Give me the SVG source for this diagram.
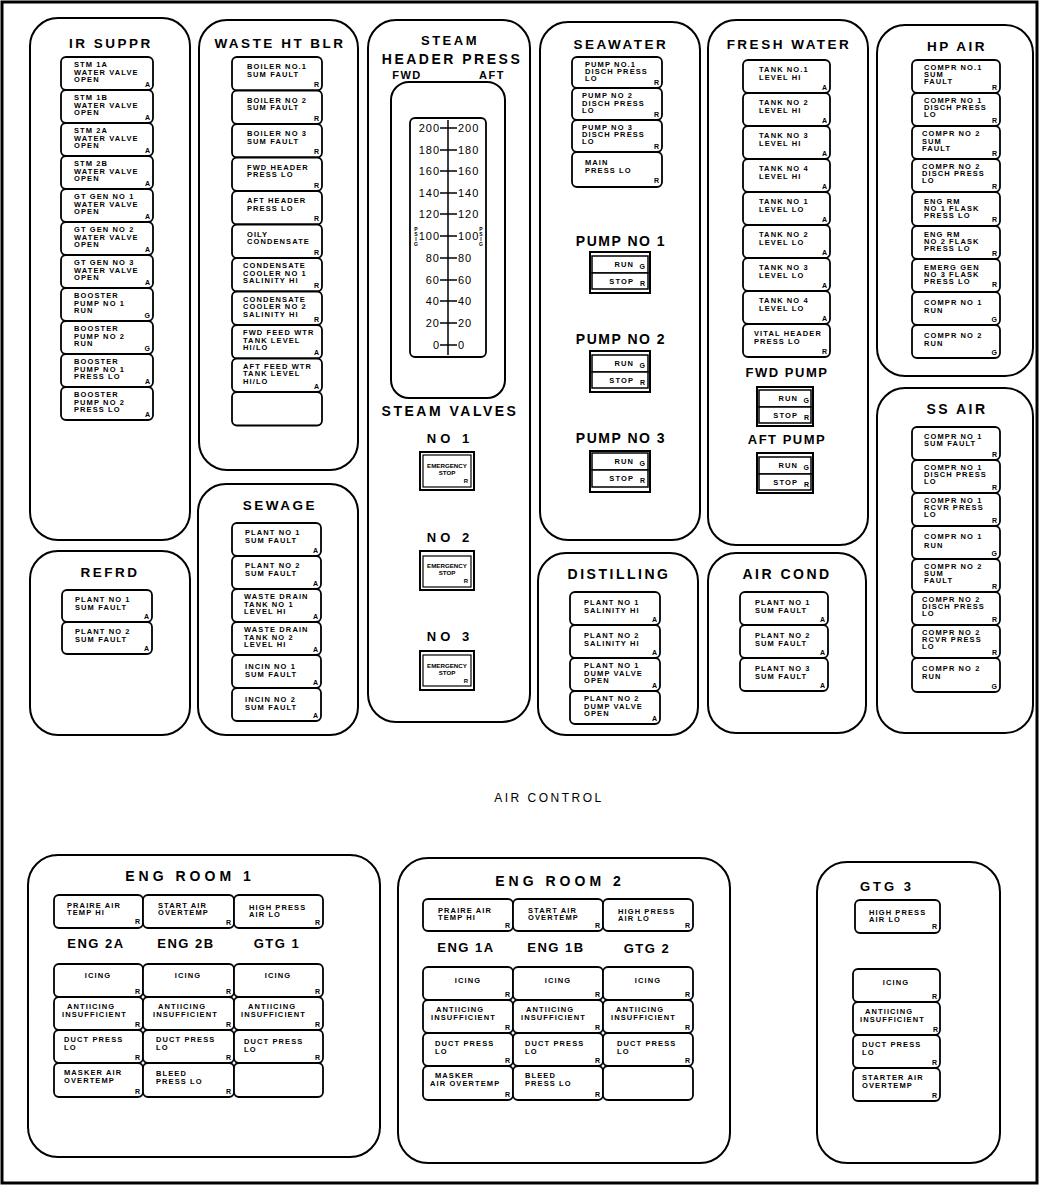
<svg xmlns="http://www.w3.org/2000/svg" width="1040" height="1187" viewBox="0 0 1040 1187">
<style>
.frame{fill:none;stroke:#000;stroke-width:3}
.panel{fill:none;stroke:#000;stroke-width:2}
.tile rect{fill:#fff;stroke:#000;stroke-width:1.8}
.tt{font-family:'Liberation Sans',Arial,sans-serif;font-weight:bold;font-size:7.5px;letter-spacing:1.1px;fill:#000}
.tc{font-family:'Liberation Sans',Arial,sans-serif;font-weight:bold;font-size:7.5px;letter-spacing:1.1px;fill:#000;text-anchor:middle}
.ind{font-family:'Liberation Sans',Arial,sans-serif;font-weight:bold;font-size:7px;fill:#000;text-anchor:end}
.title{font-family:'Liberation Sans',Arial,sans-serif;font-weight:bold;font-size:13.5px;letter-spacing:2.5px;text-anchor:middle;fill:#000}
.sub{font-family:'Liberation Sans',Arial,sans-serif;font-weight:bold;font-size:14px;letter-spacing:2.5px;text-anchor:middle;fill:#000}
.num{font-family:'Liberation Sans',Arial,sans-serif;font-size:11px;letter-spacing:1px;fill:#000}
.psig{font-family:'Liberation Sans',Arial,sans-serif;font-weight:bold;font-size:5px;fill:#000;text-anchor:middle}
.big{font-family:'Liberation Sans',Arial,sans-serif;font-size:12px;letter-spacing:2.5px;text-anchor:middle;fill:#000}
.sw rect{fill:#fff;stroke:#000}
.line{stroke:#000;stroke-width:1.5;fill:none}
</style>
<rect x="0" y="0" width="1040" height="1187" fill="#fff"/>
<rect class="frame" x="2" y="2" width="1035" height="1181"/>
<g id="connectors"></g>

<g id="ir-suppr">
<rect class="panel" x="30" y="18" width="160" height="522" rx="28"/>
<text class="title" x="111" y="48">IR SUPPR</text>
<g class="tile" transform="translate(61,57)"><rect width="92" height="33" rx="5"/><text class="tt" x="13" y="10">STM 1A<tspan x="13" dy="7.5">WATER VALVE</tspan><tspan x="13" dy="7.5">OPEN</tspan></text><text class="ind" x="89" y="30">A</text></g>
<g class="tile" transform="translate(61,90)"><rect width="92" height="33" rx="5"/><text class="tt" x="13" y="10">STM 1B<tspan x="13" dy="7.5">WATER VALVE</tspan><tspan x="13" dy="7.5">OPEN</tspan></text><text class="ind" x="89" y="30">A</text></g>
<g class="tile" transform="translate(61,123)"><rect width="92" height="33" rx="5"/><text class="tt" x="13" y="10">STM 2A<tspan x="13" dy="7.5">WATER VALVE</tspan><tspan x="13" dy="7.5">OPEN</tspan></text><text class="ind" x="89" y="30">A</text></g>
<g class="tile" transform="translate(61,156)"><rect width="92" height="33" rx="5"/><text class="tt" x="13" y="10">STM 2B<tspan x="13" dy="7.5">WATER VALVE</tspan><tspan x="13" dy="7.5">OPEN</tspan></text><text class="ind" x="89" y="30">A</text></g>
<g class="tile" transform="translate(61,189)"><rect width="92" height="33" rx="5"/><text class="tt" x="13" y="10">GT GEN NO 1<tspan x="13" dy="7.5">WATER VALVE</tspan><tspan x="13" dy="7.5">OPEN</tspan></text><text class="ind" x="89" y="30">A</text></g>
<g class="tile" transform="translate(61,222)"><rect width="92" height="33" rx="5"/><text class="tt" x="13" y="10">GT GEN NO 2<tspan x="13" dy="7.5">WATER VALVE</tspan><tspan x="13" dy="7.5">OPEN</tspan></text><text class="ind" x="89" y="30">A</text></g>
<g class="tile" transform="translate(61,255)"><rect width="92" height="33" rx="5"/><text class="tt" x="13" y="10">GT GEN NO 3<tspan x="13" dy="7.5">WATER VALVE</tspan><tspan x="13" dy="7.5">OPEN</tspan></text><text class="ind" x="89" y="30">A</text></g>
<g class="tile" transform="translate(61,288)"><rect width="92" height="33" rx="5"/><text class="tt" x="13" y="10">BOOSTER<tspan x="13" dy="7.5">PUMP NO 1</tspan><tspan x="13" dy="7.5">RUN</tspan></text><text class="ind" x="89" y="30">G</text></g>
<g class="tile" transform="translate(61,321)"><rect width="92" height="33" rx="5"/><text class="tt" x="13" y="10">BOOSTER<tspan x="13" dy="7.5">PUMP NO 2</tspan><tspan x="13" dy="7.5">RUN</tspan></text><text class="ind" x="89" y="30">G</text></g>
<g class="tile" transform="translate(61,354)"><rect width="92" height="33" rx="5"/><text class="tt" x="13" y="10">BOOSTER<tspan x="13" dy="7.5">PUMP NO 1</tspan><tspan x="13" dy="7.5">PRESS LO</tspan></text><text class="ind" x="89" y="30">A</text></g>
<g class="tile" transform="translate(61,387)"><rect width="92" height="33" rx="5"/><text class="tt" x="13" y="10">BOOSTER<tspan x="13" dy="7.5">PUMP NO 2</tspan><tspan x="13" dy="7.5">PRESS LO</tspan></text><text class="ind" x="89" y="30">A</text></g>
</g>

<g id="refrd">
<rect class="panel" x="30" y="551" width="160" height="184" rx="28"/>
<text class="title" x="110" y="577">REFRD</text>
<g class="tile" transform="translate(62,590)"><rect width="90" height="32" rx="5"/><text class="tt" x="13" y="12">PLANT NO 1<tspan x="13" dy="7.5">SUM FAULT</tspan></text><text class="ind" x="87" y="29">A</text></g>
<g class="tile" transform="translate(62,622)"><rect width="90" height="32" rx="5"/><text class="tt" x="13" y="12">PLANT NO 2<tspan x="13" dy="7.5">SUM FAULT</tspan></text><text class="ind" x="87" y="29">A</text></g>
</g>

<g id="waste-ht-blr">
<rect class="panel" x="199" y="20" width="159" height="450" rx="28"/>
<text class="title" x="280" y="48">WASTE HT BLR</text>
<g class="tile" transform="translate(232,57)"><rect width="90" height="33.5" rx="5"/><text class="tt" x="15" y="12">BOILER NO.1<tspan x="15" dy="7.5">SUM FAULT</tspan></text><text class="ind" x="87" y="30">R</text></g>
<g class="tile" transform="translate(232,90.5)"><rect width="90" height="33.5" rx="5"/><text class="tt" x="15" y="12">BOILER NO 2<tspan x="15" dy="7.5">SUM FAULT</tspan></text><text class="ind" x="87" y="30">R</text></g>
<g class="tile" transform="translate(232,124)"><rect width="90" height="33.5" rx="5"/><text class="tt" x="15" y="12">BOILER NO 3<tspan x="15" dy="7.5">SUM FAULT</tspan></text><text class="ind" x="87" y="30">R</text></g>
<g class="tile" transform="translate(232,157.5)"><rect width="90" height="33.5" rx="5"/><text class="tt" x="15" y="12">FWD HEADER<tspan x="15" dy="7.5">PRESS LO</tspan></text><text class="ind" x="87" y="30">R</text></g>
<g class="tile" transform="translate(232,191)"><rect width="90" height="33.5" rx="5"/><text class="tt" x="15" y="12">AFT HEADER<tspan x="15" dy="7.5">PRESS LO</tspan></text><text class="ind" x="87" y="30">R</text></g>
<g class="tile" transform="translate(232,224.5)"><rect width="90" height="33.5" rx="5"/><text class="tt" x="15" y="12">OILY<tspan x="15" dy="7.5">CONDENSATE</tspan></text><text class="ind" x="87" y="30">R</text></g>
<g class="tile" transform="translate(232,258)"><rect width="90" height="33.5" rx="5"/><text class="tt" x="11" y="10">CONDENSATE<tspan x="11" dy="7.5">COOLER NO 1</tspan><tspan x="11" dy="7.5">SALINITY HI</tspan></text><text class="ind" x="87" y="30">R</text></g>
<g class="tile" transform="translate(232,291.5)"><rect width="90" height="33.5" rx="5"/><text class="tt" x="11" y="10">CONDENSATE<tspan x="11" dy="7.5">COOLER NO 2</tspan><tspan x="11" dy="7.5">SALINITY HI</tspan></text><text class="ind" x="87" y="30">R</text></g>
<g class="tile" transform="translate(232,325)"><rect width="90" height="33.5" rx="5"/><text class="tt" x="11" y="10">FWD FEED WTR<tspan x="11" dy="7.5">TANK LEVEL</tspan><tspan x="11" dy="7.5">HI/LO</tspan></text><text class="ind" x="87" y="30">A</text></g>
<g class="tile" transform="translate(232,358.5)"><rect width="90" height="33.5" rx="5"/><text class="tt" x="11" y="10">AFT FEED WTR<tspan x="11" dy="7.5">TANK LEVEL</tspan><tspan x="11" dy="7.5">HI/LO</tspan></text><text class="ind" x="87" y="30">A</text></g>
<g class="tile" transform="translate(232,392)"><rect width="90" height="33.5" rx="5"/></g>
</g>

<g id="sewage">
<rect class="panel" x="198" y="484" width="160" height="251" rx="28"/>
<text class="title" x="280" y="510">SEWAGE</text>
<g class="tile" transform="translate(232,523)"><rect width="89" height="33" rx="5"/><text class="tt" x="13" y="12">PLANT NO 1<tspan x="13" dy="7.5">SUM FAULT</tspan></text><text class="ind" x="86" y="30">A</text></g>
<g class="tile" transform="translate(232,556)"><rect width="89" height="33" rx="5"/><text class="tt" x="13" y="12">PLANT NO 2<tspan x="13" dy="7.5">SUM FAULT</tspan></text><text class="ind" x="86" y="30">A</text></g>
<g class="tile" transform="translate(232,589)"><rect width="89" height="33" rx="5"/><text class="tt" x="12" y="10">WASTE DRAIN<tspan x="12" dy="7.5">TANK NO 1</tspan><tspan x="12" dy="7.5">LEVEL HI</tspan></text><text class="ind" x="86" y="30">A</text></g>
<g class="tile" transform="translate(232,622)"><rect width="89" height="33" rx="5"/><text class="tt" x="12" y="10">WASTE DRAIN<tspan x="12" dy="7.5">TANK NO 2</tspan><tspan x="12" dy="7.5">LEVEL HI</tspan></text><text class="ind" x="86" y="30">A</text></g>
<g class="tile" transform="translate(232,655)"><rect width="89" height="33" rx="5"/><text class="tt" x="13" y="14">INCIN NO 1<tspan x="13" dy="7.5">SUM FAULT</tspan></text><text class="ind" x="86" y="30">A</text></g>
<g class="tile" transform="translate(232,688)"><rect width="89" height="33" rx="5"/><text class="tt" x="13" y="14">INCIN NO 2<tspan x="13" dy="7.5">SUM FAULT</tspan></text><text class="ind" x="86" y="30">A</text></g>
</g>

<g id="steam">
<rect class="panel" x="368" y="20" width="162" height="702" rx="28"/>
<text class="sub" x="450" y="45" style="font-size:13px">STEAM</text>
<text class="sub" x="452" y="64">HEADER PRESS</text>
<text class="title" x="407" y="79" style="font-size:11px;letter-spacing:1.5px">FWD</text>
<text class="title" x="492" y="79" style="font-size:11px;letter-spacing:1.5px">AFT</text>
<rect class="panel" x="391" y="82" width="114" height="316" rx="18"/>
<rect x="410" y="118" width="76" height="239" rx="5" fill="none" stroke="#000" stroke-width="1.8"/>
<line class="line" x1="448" y1="120" x2="448" y2="355"/>
<g class="line">
<line x1="440" y1="128" x2="457" y2="128"/><line x1="440" y1="150" x2="457" y2="150"/><line x1="440" y1="171" x2="457" y2="171"/><line x1="440" y1="193" x2="457" y2="193"/><line x1="440" y1="214" x2="457" y2="214"/><line x1="440" y1="236" x2="457" y2="236"/><line x1="440" y1="258" x2="457" y2="258"/><line x1="440" y1="280" x2="457" y2="280"/><line x1="440" y1="301" x2="457" y2="301"/><line x1="440" y1="323" x2="457" y2="323"/><line x1="440" y1="345" x2="457" y2="345"/>
</g>
<g class="num" text-anchor="end">
<text x="440" y="132">200</text><text x="440" y="154">180</text><text x="440" y="175">160</text><text x="440" y="197">140</text><text x="440" y="218">120</text><text x="440" y="240">100</text><text x="440" y="262">80</text><text x="440" y="284">60</text><text x="440" y="305">40</text><text x="440" y="327">20</text><text x="440" y="349">0</text>
</g>
<g class="num">
<text x="458" y="132">200</text><text x="458" y="154">180</text><text x="458" y="175">160</text><text x="458" y="197">140</text><text x="458" y="218">120</text><text x="458" y="240">100</text><text x="458" y="262">80</text><text x="458" y="284">60</text><text x="458" y="305">40</text><text x="458" y="327">20</text><text x="458" y="349">0</text>
</g>
<text class="psig" x="416" y="231">P<tspan x="416" dy="5">S</tspan><tspan x="416" dy="5">I</tspan><tspan x="416" dy="5">G</tspan></text>
<text class="psig" x="481" y="231">P<tspan x="481" dy="5">S</tspan><tspan x="481" dy="5">I</tspan><tspan x="481" dy="5">G</tspan></text>
<text class="sub" x="450" y="416" style="font-size:14px">STEAM VALVES</text>
<text class="sub" x="450" y="443" style="font-size:13px;letter-spacing:4px">NO 1</text>
<g class="sw" transform="translate(420,452)"><rect width="54" height="38" stroke-width="2"/><rect x="3" y="3" width="48" height="32" stroke-width="1.2"/><text class="tc" x="27" y="16" style="font-size:6.2px;letter-spacing:0">EMERGENCY<tspan x="27" dy="7">STOP</tspan></text><text class="ind" x="48" y="31" style="font-size:6px">R</text></g>
<text class="sub" x="450" y="542" style="font-size:13px;letter-spacing:4px">NO 2</text>
<g class="sw" transform="translate(420,551)"><rect width="54" height="39" stroke-width="2"/><rect x="3" y="5" width="48" height="31" stroke-width="1.2"/><text class="tc" x="27" y="17" style="font-size:6.2px;letter-spacing:0">EMERGENCY<tspan x="27" dy="7">STOP</tspan></text><text class="ind" x="48" y="32" style="font-size:6px">R</text></g>
<text class="sub" x="450" y="641" style="font-size:13px;letter-spacing:4px">NO 3</text>
<g class="sw" transform="translate(420,651)"><rect width="54" height="39" stroke-width="2"/><rect x="3" y="4" width="48" height="31" stroke-width="1.2"/><text class="tc" x="27" y="17" style="font-size:6.2px;letter-spacing:0">EMERGENCY<tspan x="27" dy="7">STOP</tspan></text><text class="ind" x="48" y="32" style="font-size:6px">R</text></g>
</g>

<g id="seawater">
<rect class="panel" x="540" y="22" width="160" height="518" rx="28"/>
<text class="title" x="621" y="49">SEAWATER</text>
<g class="tile" transform="translate(572,57)"><rect width="90" height="31" rx="5"/><text class="tt" x="13" y="10">PUMP NO.1<tspan x="13" dy="7">DISCH PRESS</tspan><tspan x="13" dy="7">LO</tspan></text><text class="ind" x="87" y="28">R</text></g>
<g class="tile" transform="translate(572,88)"><rect width="90" height="32" rx="5"/><text class="tt" x="10" y="10">PUMP NO 2<tspan x="10" dy="7.5">DISCH PRESS</tspan><tspan x="10" dy="7.5">LO</tspan></text><text class="ind" x="87" y="29">R</text></g>
<g class="tile" transform="translate(572,120)"><rect width="90" height="32" rx="5"/><text class="tt" x="10" y="10">PUMP NO 3<tspan x="10" dy="7">DISCH PRESS</tspan><tspan x="10" dy="7">LO</tspan></text><text class="ind" x="87" y="29">R</text></g>
<g class="tile" transform="translate(572,152)"><rect width="90" height="35" rx="5"/><text class="tt" x="13" y="13">MAIN<tspan x="13" dy="7.5">PRESS LO</tspan></text><text class="ind" x="87" y="31">R</text></g>
<text class="sub" x="621" y="246" style="letter-spacing:1.5px">PUMP NO 1</text>
<g class="sw" transform="translate(590,252)"><rect width="60" height="41" stroke-width="2"/><rect x="2" y="4" width="56" height="17" stroke-width="1.5"/><rect x="2" y="21" width="56" height="16" stroke-width="1.5"/><text class="tt" x="44" y="15" text-anchor="end">RUN</text><text class="ind" x="55" y="17">G</text><text class="tt" x="44" y="32" text-anchor="end">STOP</text><text class="ind" x="55" y="34">R</text></g>
<text class="sub" x="621" y="344" style="letter-spacing:1.5px">PUMP NO 2</text>
<g class="sw" transform="translate(590,351)"><rect width="60" height="41" stroke-width="2"/><rect x="2" y="4" width="56" height="17" stroke-width="1.5"/><rect x="2" y="21" width="56" height="16" stroke-width="1.5"/><text class="tt" x="44" y="15" text-anchor="end">RUN</text><text class="ind" x="55" y="17">G</text><text class="tt" x="44" y="32" text-anchor="end">STOP</text><text class="ind" x="55" y="34">R</text></g>
<text class="sub" x="621" y="443" style="letter-spacing:1.5px">PUMP NO 3</text>
<g class="sw" transform="translate(590,451)"><rect width="60" height="41" stroke-width="2"/><rect x="2" y="2" width="56" height="17" stroke-width="1.5"/><rect x="2" y="19" width="56" height="17" stroke-width="1.5"/><text class="tt" x="44" y="13" text-anchor="end">RUN</text><text class="ind" x="55" y="15">G</text><text class="tt" x="44" y="30" text-anchor="end">STOP</text><text class="ind" x="55" y="32">R</text></g>
</g>

<g id="distilling">
<rect class="panel" x="538" y="553" width="160" height="182" rx="28"/>
<text class="title" x="619" y="579" style="font-size:14px">DISTILLING</text>
<g class="tile" transform="translate(570,592)"><rect width="90" height="33" rx="5"/><text class="tt" x="14" y="13">PLANT NO 1<tspan x="14" dy="7.5">SALINITY HI</tspan></text><text class="ind" x="87" y="30">A</text></g>
<g class="tile" transform="translate(570,625)"><rect width="90" height="33" rx="5"/><text class="tt" x="14" y="13">PLANT NO 2<tspan x="14" dy="7.5">SALINITY HI</tspan></text><text class="ind" x="87" y="30">A</text></g>
<g class="tile" transform="translate(570,658)"><rect width="90" height="33" rx="5"/><text class="tt" x="14" y="10">PLANT NO 1<tspan x="14" dy="7.5">DUMP VALVE</tspan><tspan x="14" dy="7.5">OPEN</tspan></text><text class="ind" x="87" y="30">A</text></g>
<g class="tile" transform="translate(570,691)"><rect width="90" height="33" rx="5"/><text class="tt" x="14" y="10">PLANT NO 2<tspan x="14" dy="7.5">DUMP VALVE</tspan><tspan x="14" dy="7.5">OPEN</tspan></text><text class="ind" x="87" y="30">A</text></g>
</g>

<g id="fresh-water">
<rect class="panel" x="708" y="20" width="160" height="525" rx="28"/>
<text class="title" x="789" y="49">FRESH WATER</text>
<g class="tile" transform="translate(743,60)"><rect width="87" height="33" rx="5"/><text class="tt" x="16" y="12">TANK NO.1<tspan x="16" dy="7.5">LEVEL HI</tspan></text><text class="ind" x="84" y="30">A</text></g>
<g class="tile" transform="translate(743,93)"><rect width="87" height="33" rx="5"/><text class="tt" x="16" y="12">TANK NO 2<tspan x="16" dy="7.5">LEVEL HI</tspan></text><text class="ind" x="84" y="30">A</text></g>
<g class="tile" transform="translate(743,126)"><rect width="87" height="33" rx="5"/><text class="tt" x="16" y="12">TANK NO 3<tspan x="16" dy="7.5">LEVEL HI</tspan></text><text class="ind" x="84" y="30">A</text></g>
<g class="tile" transform="translate(743,159)"><rect width="87" height="33" rx="5"/><text class="tt" x="16" y="12">TANK NO 4<tspan x="16" dy="7.5">LEVEL HI</tspan></text><text class="ind" x="84" y="30">A</text></g>
<g class="tile" transform="translate(743,192)"><rect width="87" height="33" rx="5"/><text class="tt" x="16" y="12">TANK NO 1<tspan x="16" dy="7.5">LEVEL LO</tspan></text><text class="ind" x="84" y="30">A</text></g>
<g class="tile" transform="translate(743,225)"><rect width="87" height="33" rx="5"/><text class="tt" x="16" y="12">TANK NO 2<tspan x="16" dy="7.5">LEVEL LO</tspan></text><text class="ind" x="84" y="30">A</text></g>
<g class="tile" transform="translate(743,258)"><rect width="87" height="33" rx="5"/><text class="tt" x="16" y="12">TANK NO 3<tspan x="16" dy="7.5">LEVEL LO</tspan></text><text class="ind" x="84" y="30">A</text></g>
<g class="tile" transform="translate(743,291)"><rect width="87" height="33" rx="5"/><text class="tt" x="16" y="12">TANK NO 4<tspan x="16" dy="7.5">LEVEL LO</tspan></text><text class="ind" x="84" y="30">A</text></g>
<g class="tile" transform="translate(743,324)"><rect width="87" height="33" rx="5"/><text class="tt" x="11" y="12">VITAL HEADER<tspan x="11" dy="7.5">PRESS LO</tspan></text><text class="ind" x="84" y="30">R</text></g>
<text class="sub" x="787" y="377" style="font-size:13px;letter-spacing:1.5px">FWD PUMP</text>
<g class="sw" transform="translate(757,387)"><rect width="56" height="39" stroke-width="2"/><rect x="2" y="3" width="52" height="17" stroke-width="1.5"/><rect x="2" y="20" width="52" height="16" stroke-width="1.5"/><text class="tt" x="41" y="14" text-anchor="end">RUN</text><text class="ind" x="52" y="16">G</text><text class="tt" x="41" y="31" text-anchor="end">STOP</text><text class="ind" x="52" y="33">R</text></g>
<text class="sub" x="787" y="444" style="font-size:13px;letter-spacing:1.5px">AFT PUMP</text>
<g class="sw" transform="translate(757,453)"><rect width="56" height="40" stroke-width="2"/><rect x="2" y="4" width="52" height="17" stroke-width="1.5"/><rect x="2" y="21" width="52" height="16" stroke-width="1.5"/><text class="tt" x="41" y="15" text-anchor="end">RUN</text><text class="ind" x="52" y="17">G</text><text class="tt" x="41" y="32" text-anchor="end">STOP</text><text class="ind" x="52" y="34">R</text></g>
</g>

<g id="air-cond">
<rect class="panel" x="708" y="553" width="158" height="180" rx="28"/>
<text class="title" x="787" y="579" style="font-size:14px">AIR COND</text>
<g class="tile" transform="translate(740,592)"><rect width="88" height="33" rx="5"/><text class="tt" x="15" y="13">PLANT NO 1<tspan x="15" dy="7.5">SUM FAULT</tspan></text><text class="ind" x="85" y="30">A</text></g>
<g class="tile" transform="translate(740,625)"><rect width="88" height="33" rx="5"/><text class="tt" x="15" y="13">PLANT NO 2<tspan x="15" dy="7.5">SUM FAULT</tspan></text><text class="ind" x="85" y="30">A</text></g>
<g class="tile" transform="translate(740,658)"><rect width="88" height="33" rx="5"/><text class="tt" x="15" y="13">PLANT NO 3<tspan x="15" dy="7.5">SUM FAULT</tspan></text><text class="ind" x="85" y="30">A</text></g>
</g>

<g id="hp-air">
<rect class="panel" x="877" y="25" width="156" height="351" rx="28"/>
<text class="title" x="957" y="51">HP AIR</text>
<g class="tile" transform="translate(912,60)"><rect width="88" height="33" rx="5"/><text class="tt" x="12" y="10">COMPR NO.1<tspan x="12" dy="7">SUM</tspan><tspan x="12" dy="7">FAULT</tspan></text><text class="ind" x="85" y="30">R</text></g>
<g class="tile" transform="translate(912,93)"><rect width="88" height="33" rx="5"/><text class="tt" x="12" y="10">COMPR NO 1<tspan x="12" dy="7">DISCH PRESS</tspan><tspan x="12" dy="7">LO</tspan></text><text class="ind" x="85" y="30">R</text></g>
<g class="tile" transform="translate(912,126)"><rect width="88" height="33" rx="5"/><text class="tt" x="10" y="10">COMPR NO 2<tspan x="10" dy="7.5">SUM</tspan><tspan x="10" dy="7.5">FAULT</tspan></text><text class="ind" x="85" y="30">R</text></g>
<g class="tile" transform="translate(912,159)"><rect width="88" height="33" rx="5"/><text class="tt" x="10" y="10">COMPR NO 2<tspan x="10" dy="7">DISCH PRESS</tspan><tspan x="10" dy="7">LO</tspan></text><text class="ind" x="85" y="30">R</text></g>
<g class="tile" transform="translate(912,192)"><rect width="88" height="34" rx="5"/><text class="tt" x="12" y="12">ENG RM<tspan x="12" dy="7">NO 1 FLASK</tspan><tspan x="12" dy="7">PRESS LO</tspan></text><text class="ind" x="85" y="30">R</text></g>
<g class="tile" transform="translate(912,226)"><rect width="88" height="33" rx="5"/><text class="tt" x="12" y="11">ENG RM<tspan x="12" dy="7">NO 2 FLASK</tspan><tspan x="12" dy="7">PRESS LO</tspan></text><text class="ind" x="85" y="30">R</text></g>
<g class="tile" transform="translate(912,259)"><rect width="88" height="33" rx="5"/><text class="tt" x="12" y="11">EMERG GEN<tspan x="12" dy="7">NO 3 FLASK</tspan><tspan x="12" dy="7">PRESS LO</tspan></text><text class="ind" x="85" y="28">R</text></g>
<g class="tile" transform="translate(912,292)"><rect width="88" height="33" rx="5"/><text class="tt" x="12" y="13">COMPR NO 1<tspan x="12" dy="7.5">RUN</tspan></text><text class="ind" x="85" y="30">G</text></g>
<g class="tile" transform="translate(912,325)"><rect width="88" height="33" rx="5"/><text class="tt" x="12" y="13">COMPR NO 2<tspan x="12" dy="7.5">RUN</tspan></text><text class="ind" x="85" y="30">G</text></g>
</g>

<g id="ss-air">
<rect class="panel" x="877" y="388" width="156" height="345" rx="28"/>
<text class="title" x="957" y="414" style="font-size:14px">SS AIR</text>
<g class="tile" transform="translate(912,427)"><rect width="88" height="33" rx="5"/><text class="tt" x="12" y="12">COMPR NO 1<tspan x="12" dy="7">SUM FAULT</tspan></text><text class="ind" x="85" y="30">R</text></g>
<g class="tile" transform="translate(912,460)"><rect width="88" height="33" rx="5"/><text class="tt" x="12" y="10">COMPR NO 1<tspan x="12" dy="7">DISCH PRESS</tspan><tspan x="12" dy="7">LO</tspan></text><text class="ind" x="85" y="30">R</text></g>
<g class="tile" transform="translate(912,493)"><rect width="88" height="33" rx="5"/><text class="tt" x="12" y="10">COMPR NO 1<tspan x="12" dy="7">RCVR PRESS</tspan><tspan x="12" dy="7">LO</tspan></text><text class="ind" x="85" y="30">R</text></g>
<g class="tile" transform="translate(912,526)"><rect width="88" height="33" rx="5"/><text class="tt" x="12" y="13">COMPR NO 1<tspan x="12" dy="9">RUN</tspan></text><text class="ind" x="85" y="30">G</text></g>
<g class="tile" transform="translate(912,559)"><rect width="88" height="33" rx="5"/><text class="tt" x="12" y="10">COMPR NO 2<tspan x="12" dy="7">SUM</tspan><tspan x="12" dy="7">FAULT</tspan></text><text class="ind" x="85" y="30">R</text></g>
<g class="tile" transform="translate(912,592)"><rect width="88" height="33" rx="5"/><text class="tt" x="10" y="10">COMPR NO 2<tspan x="10" dy="7">DISCH PRESS</tspan><tspan x="10" dy="7">LO</tspan></text><text class="ind" x="85" y="30">R</text></g>
<g class="tile" transform="translate(912,625)"><rect width="88" height="33" rx="5"/><text class="tt" x="10" y="10">COMPR NO 2<tspan x="10" dy="7">RCVR PRESS</tspan><tspan x="10" dy="7">LO</tspan></text><text class="ind" x="85" y="30">R</text></g>
<g class="tile" transform="translate(912,658)"><rect width="88" height="34" rx="5"/><text class="tt" x="10" y="13">COMPR NO 2<tspan x="10" dy="7.5">RUN</tspan></text><text class="ind" x="85" y="31">G</text></g>
</g>

<g id="air-control">
<text class="big" x="549" y="802">AIR CONTROL</text>
</g>

<g id="eng-room-1">
<rect class="panel" x="28" y="855" width="352" height="302" rx="30"/>
<text class="sub" x="190" y="881" style="letter-spacing:4px">ENG ROOM 1</text>
<g class="tile" transform="translate(54,895)"><rect width="89" height="33" rx="5"/><text class="tt" x="13" y="13">PRAIRE AIR<tspan x="13" dy="7">TEMP HI</tspan></text><text class="ind" x="86" y="29">R</text></g>
<g class="tile" transform="translate(143,895)"><rect width="91" height="33" rx="5"/><text class="tt" x="15" y="13">START AIR<tspan x="15" dy="7">OVERTEMP</tspan></text><text class="ind" x="88" y="30">R</text></g>
<g class="tile" transform="translate(234,895)"><rect width="89" height="33" rx="5"/><text class="tt" x="15" y="15">HIGH PRESS<tspan x="15" dy="7">AIR LO</tspan></text><text class="ind" x="86" y="30">R</text></g>
<text class="sub" x="96" y="948" style="font-size:13px;letter-spacing:1.5px">ENG 2A</text>
<text class="sub" x="186" y="948" style="font-size:13px;letter-spacing:1.5px">ENG 2B</text>
<text class="sub" x="277" y="948" style="font-size:13px;letter-spacing:1.5px">GTG 1</text>
<g class="tile" transform="translate(54,964)"><rect width="89" height="33" rx="5"/><text class="tc" x="44" y="14">ICING</text><text class="ind" x="86" y="30">R</text></g>
<g class="tile" transform="translate(143,964)"><rect width="91" height="33" rx="5"/><text class="tc" x="45" y="14">ICING</text><text class="ind" x="88" y="30">R</text></g>
<g class="tile" transform="translate(234,964)"><rect width="89" height="33" rx="5"/><text class="tc" x="44" y="14">ICING</text><text class="ind" x="86" y="30">R</text></g>
<g class="tile" transform="translate(54,997)"><rect width="89" height="33" rx="5"/><text class="tt" x="13" y="12">ANTIICING<tspan x="8" dy="8">INSUFFICIENT</tspan></text><text class="ind" x="86" y="30">R</text></g>
<g class="tile" transform="translate(143,997)"><rect width="91" height="33" rx="5"/><text class="tt" x="15" y="12">ANTIICING<tspan x="10" dy="8">INSUFFICIENT</tspan></text><text class="ind" x="88" y="30">R</text></g>
<g class="tile" transform="translate(234,997)"><rect width="89" height="33" rx="5"/><text class="tt" x="14" y="12">ANTIICING<tspan x="7" dy="8">INSUFFICIENT</tspan></text><text class="ind" x="86" y="30">R</text></g>
<g class="tile" transform="translate(54,1030)"><rect width="89" height="33" rx="5"/><text class="tt" x="10" y="12">DUCT PRESS<tspan x="10" dy="7.5">LO</tspan></text><text class="ind" x="86" y="30">R</text></g>
<g class="tile" transform="translate(143,1030)"><rect width="91" height="33" rx="5"/><text class="tt" x="13" y="12">DUCT PRESS<tspan x="13" dy="7.5">LO</tspan></text><text class="ind" x="88" y="30">R</text></g>
<g class="tile" transform="translate(234,1030)"><rect width="89" height="33" rx="5"/><text class="tt" x="10" y="14">DUCT PRESS<tspan x="10" dy="7.5">LO</tspan></text><text class="ind" x="86" y="30">R</text></g>
<g class="tile" transform="translate(54,1063)"><rect width="89" height="34" rx="5"/><text class="tt" x="10" y="12">MASKER AIR<tspan x="10" dy="7.5">OVERTEMP</tspan></text><text class="ind" x="86" y="31">R</text></g>
<g class="tile" transform="translate(143,1063)"><rect width="91" height="34" rx="5"/><text class="tt" x="13" y="13">BLEED<tspan x="13" dy="7.5">PRESS LO</tspan></text><text class="ind" x="88" y="31">R</text></g>
<g class="tile" transform="translate(234,1063)"><rect width="89" height="34" rx="5"/></g>
</g>

<g id="eng-room-2">
<rect class="panel" x="398" y="858" width="332" height="305" rx="30"/>
<text class="sub" x="560" y="886" style="letter-spacing:4px">ENG ROOM 2</text>
<g class="tile" transform="translate(423,899)"><rect width="90" height="32" rx="5"/><text class="tt" x="15" y="14">PRAIRE AIR<tspan x="15" dy="7">TEMP HI</tspan></text><text class="ind" x="87" y="29">R</text></g>
<g class="tile" transform="translate(513,899)"><rect width="90" height="32" rx="5"/><text class="tt" x="15" y="14">START AIR<tspan x="15" dy="7">OVERTEMP</tspan></text><text class="ind" x="87" y="29">R</text></g>
<g class="tile" transform="translate(603,899)"><rect width="90" height="32" rx="5"/><text class="tt" x="15" y="15">HIGH PRESS<tspan x="15" dy="7">AIR LO</tspan></text><text class="ind" x="87" y="29">R</text></g>
<text class="sub" x="466" y="952" style="font-size:13px;letter-spacing:1.5px">ENG 1A</text>
<text class="sub" x="556" y="952" style="font-size:13px;letter-spacing:1.5px">ENG 1B</text>
<text class="sub" x="647" y="953" style="font-size:13px;letter-spacing:1.5px">GTG 2</text>
<g class="tile" transform="translate(423,967)"><rect width="90" height="33" rx="5"/><text class="tc" x="45" y="16">ICING</text><text class="ind" x="87" y="30">R</text></g>
<g class="tile" transform="translate(513,967)"><rect width="90" height="33" rx="5"/><text class="tc" x="45" y="16">ICING</text><text class="ind" x="87" y="30">R</text></g>
<g class="tile" transform="translate(603,967)"><rect width="90" height="33" rx="5"/><text class="tc" x="45" y="16">ICING</text><text class="ind" x="87" y="30">R</text></g>
<g class="tile" transform="translate(423,1000)"><rect width="90" height="33" rx="5"/><text class="tt" x="13" y="12">ANTIICING<tspan x="8" dy="8">INSUFFICIENT</tspan></text><text class="ind" x="87" y="30">R</text></g>
<g class="tile" transform="translate(513,1000)"><rect width="90" height="33" rx="5"/><text class="tt" x="13" y="12">ANTIICING<tspan x="8" dy="8">INSUFFICIENT</tspan></text><text class="ind" x="87" y="30">R</text></g>
<g class="tile" transform="translate(603,1000)"><rect width="90" height="33" rx="5"/><text class="tt" x="13" y="12">ANTIICING<tspan x="8" dy="8">INSUFFICIENT</tspan></text><text class="ind" x="87" y="30">R</text></g>
<g class="tile" transform="translate(423,1033)"><rect width="90" height="33" rx="5"/><text class="tt" x="12" y="13">DUCT PRESS<tspan x="12" dy="7.5">LO</tspan></text><text class="ind" x="87" y="30">R</text></g>
<g class="tile" transform="translate(513,1033)"><rect width="90" height="33" rx="5"/><text class="tt" x="12" y="13">DUCT PRESS<tspan x="12" dy="7.5">LO</tspan></text><text class="ind" x="87" y="30">R</text></g>
<g class="tile" transform="translate(603,1033)"><rect width="90" height="33" rx="5"/><text class="tt" x="14" y="13">DUCT PRESS<tspan x="14" dy="7.5">LO</tspan></text><text class="ind" x="87" y="30">R</text></g>
<g class="tile" transform="translate(423,1066)"><rect width="90" height="34" rx="5"/><text class="tt" x="12" y="12">MASKER<tspan x="7" dy="7.5">AIR OVERTEMP</tspan></text><text class="ind" x="87" y="31">R</text></g>
<g class="tile" transform="translate(513,1066)"><rect width="90" height="34" rx="5"/><text class="tt" x="12" y="12">BLEED<tspan x="12" dy="7.5">PRESS LO</tspan></text><text class="ind" x="87" y="31">R</text></g>
<g class="tile" transform="translate(603,1066)"><rect width="90" height="34" rx="5"/></g>
</g>

<g id="gtg-3">
<rect class="panel" x="817" y="862" width="183" height="301" rx="30"/>
<text class="sub" x="887" y="891" style="font-size:13px;letter-spacing:3px">GTG 3</text>
<g class="tile" transform="translate(855,900)"><rect width="85" height="33" rx="5"/><text class="tt" x="14" y="15">HIGH PRESS<tspan x="14" dy="7">AIR LO</tspan></text><text class="ind" x="82" y="29">R</text></g>
<g class="tile" transform="translate(853,969)"><rect width="87" height="33" rx="5"/><text class="tc" x="43" y="16">ICING</text><text class="ind" x="84" y="30">R</text></g>
<g class="tile" transform="translate(853,1002)"><rect width="87" height="33" rx="5"/><text class="tt" x="12" y="12">ANTIICING<tspan x="7" dy="8">INSUFFICIENT</tspan></text><text class="ind" x="85" y="30">R</text></g>
<g class="tile" transform="translate(853,1035)"><rect width="87" height="33" rx="5"/><text class="tt" x="9" y="12">DUCT PRESS<tspan x="9" dy="7.5">LO</tspan></text><text class="ind" x="84" y="30">R</text></g>
<g class="tile" transform="translate(853,1068)"><rect width="87" height="33" rx="5"/><text class="tt" x="9" y="12">STARTER AIR<tspan x="9" dy="7.5">OVERTEMP</tspan></text><text class="ind" x="84" y="30">R</text></g>
</g>
</svg>
